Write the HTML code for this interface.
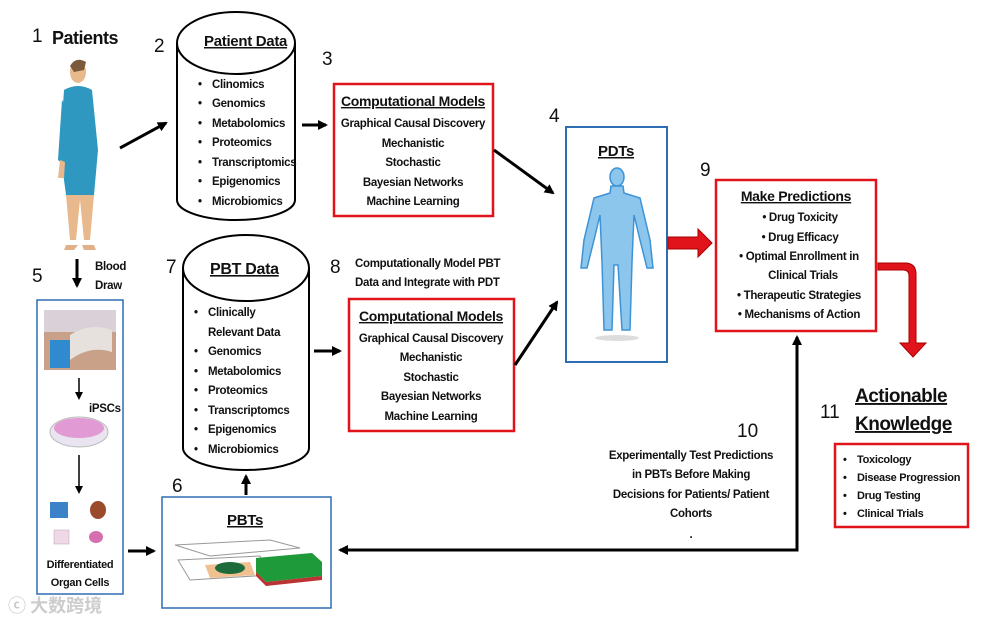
<!DOCTYPE html>
<html><head><meta charset="utf-8"><style>
body{margin:0;background:#fff}
svg{display:block}
text{font-family:"Liberation Sans",sans-serif;font-weight:bold;fill:#111}
.n{font-family:"Liberation Sans",sans-serif;font-weight:normal;font-size:19px}
.t{font-size:11.5px;letter-spacing:-0.3px}
.h{font-size:15px;text-decoration:underline;letter-spacing:-0.3px}
</style></head><body>
<svg width="981" height="625" viewBox="0 0 981 625" xmlns="http://www.w3.org/2000/svg">
<defs>
<marker id="a" markerWidth="8" markerHeight="8" refX="6" refY="4" orient="auto" markerUnits="userSpaceOnUse"><path d="M0,0 L8,4 L0,8 Z" fill="#000"/></marker>
<marker id="b" markerWidth="10" markerHeight="10" refX="8" refY="5" orient="auto" markerUnits="userSpaceOnUse"><path d="M0,0 L10,5 L0,10 Z" fill="#000"/></marker>
</defs>
<text class="n" x="32" y="42">1</text>
<text x="52" y="44" style="font-size:18px;letter-spacing:-0.5px">Patients</text>
<text class="n" x="154" y="52">2</text>
<text class="n" x="322" y="65">3</text>
<text class="n" x="549" y="122">4</text>
<text class="n" x="32" y="282">5</text>
<text class="n" x="172" y="492">6</text>
<text class="n" x="166" y="273">7</text>
<text class="n" x="330" y="273">8</text>
<text class="n" x="700" y="176">9</text>
<text class="n" x="737" y="437">10</text>
<text class="n" x="820" y="418">11</text>

<g>
<ellipse cx="78" cy="72" rx="8" ry="11" fill="#e8b98c"/>
<path d="M70,66 Q76,56 86,62 L84,70 L74,72 Z" fill="#7a5a3a"/>
<path d="M64,90 Q78,82 92,90 L98,150 L94,195 L66,195 L60,150 Z" fill="#2f98c0"/>
<path d="M66,195 L94,195 L90,240 L84,240 L80,200 L76,240 L70,240 Z" fill="#e8b98c"/>
<path d="M62,100 L58,160 L64,165 L68,110 Z" fill="#2f98c0"/>
<path d="M60,160 L58,178 L64,178 L65,162 Z" fill="#e8b98c"/>
<path d="M66,245 L78,245 L74,250 L64,250 Z M82,245 L94,245 L96,250 L84,250Z" fill="#e0b088"/>
</g>

<path d="M177,43 L177,200 A59,20 0 0 0 295,200 L295,43" fill="#fff" stroke="#000" stroke-width="2"/>
<ellipse cx="236" cy="43" rx="59" ry="31" fill="#fff" stroke="#000" stroke-width="2"/>
<text class="h" x="204" y="46">Patient Data</text>
<text class="t" x="198" y="88">•</text><text class="t" x="212" y="88">Clinomics</text>
<text class="t" x="198" y="107">•</text><text class="t" x="212" y="107">Genomics</text>
<text class="t" x="198" y="127">•</text><text class="t" x="212" y="127">Metabolomics</text>
<text class="t" x="198" y="146">•</text><text class="t" x="212" y="146">Proteomics</text>
<text class="t" x="198" y="166">•</text><text class="t" x="212" y="166">Transcriptomics</text>
<text class="t" x="198" y="185">•</text><text class="t" x="212" y="185">Epigenomics</text>
<text class="t" x="198" y="205">•</text><text class="t" x="212" y="205">Microbiomics</text>

<path d="M183,268 L183,448 A63,22 0 0 0 309,448 L309,268" fill="#fff" stroke="#000" stroke-width="2"/>
<ellipse cx="246" cy="268" rx="63" ry="33" fill="#fff" stroke="#000" stroke-width="2"/>
<text class="h" x="210" y="274" style="font-size:16px">PBT Data</text>
<text class="t" x="194" y="316">•</text><text class="t" x="208" y="316">Clinically</text>
<text class="t" x="208" y="336">Relevant Data</text>
<text class="t" x="194" y="355">•</text><text class="t" x="208" y="355">Genomics</text>
<text class="t" x="194" y="375">•</text><text class="t" x="208" y="375">Metabolomics</text>
<text class="t" x="194" y="394">•</text><text class="t" x="208" y="394">Proteomics</text>
<text class="t" x="194" y="414">•</text><text class="t" x="208" y="414">Transcriptomcs</text>
<text class="t" x="194" y="433">•</text><text class="t" x="208" y="433">Epigenomics</text>
<text class="t" x="194" y="453">•</text><text class="t" x="208" y="453">Microbiomics</text>

<rect x="334" y="84" width="159" height="132" fill="#fff" stroke="#e0141a" stroke-width="2.5"/>
<g text-anchor="middle">
<text class="h" x="413" y="106" style="font-size:14px">Computational Models</text>
<text class="t" x="413" y="127">Graphical Causal Discovery</text>
<text class="t" x="413" y="147">Mechanistic</text>
<text class="t" x="413" y="166">Stochastic</text>
<text class="t" x="413" y="186">Bayesian Networks</text>
<text class="t" x="413" y="205">Machine Learning</text>
</g>

<text class="t" x="355" y="267">Computationally Model PBT</text>
<text class="t" x="355" y="286">Data and Integrate with PDT</text>
<rect x="349" y="299" width="165" height="132" fill="#fff" stroke="#e0141a" stroke-width="2.5"/>
<g text-anchor="middle">
<text class="h" x="431" y="321" style="font-size:14px">Computational Models</text>
<text class="t" x="431" y="342">Graphical Causal Discovery</text>
<text class="t" x="431" y="361">Mechanistic</text>
<text class="t" x="431" y="381">Stochastic</text>
<text class="t" x="431" y="400">Bayesian Networks</text>
<text class="t" x="431" y="420">Machine Learning</text>
</g>

<rect x="566" y="127" width="101" height="235" fill="#fff" stroke="#2e6db4" stroke-width="2"/>
<text class="h" x="616" y="156" text-anchor="middle">PDTs</text>
<g fill="#8cc6ec" stroke="#3d93d6" stroke-width="1.5">
<ellipse cx="617" cy="177" rx="7" ry="9"/>
<path d="M611,186 L623,186 L624,193 L640,198 L650,240 L653,268 L647,268 L640,240 L634,215 L632,262 L630,330 L622,330 L618,265 L614,265 L612,330 L604,330 L602,262 L600,215 L594,240 L587,268 L581,268 L584,240 L594,198 L610,193 Z"/>
</g>
<ellipse cx="617" cy="338" rx="22" ry="3" fill="#ddd"/>

<rect x="716" y="180" width="160" height="151" fill="#fff" stroke="#e0141a" stroke-width="2.5"/>
<g text-anchor="middle">
<text class="h" x="796" y="201" style="font-size:14px">Make Predictions</text>
<text class="t" x="800" y="221">•  Drug Toxicity</text>
<text class="t" x="800" y="241">•  Drug Efficacy</text>
<text class="t" x="799" y="260">•  Optimal Enrollment in</text>
<text class="t" x="803" y="279">Clinical Trials</text>
<text class="t" x="799" y="299">•  Therapeutic  Strategies</text>
<text class="t" x="799" y="318">•  Mechanisms of Action</text>
</g>

<path d="M668,237 L698,237 L698,229 L712,243 L698,257 L698,249 L668,249 Z" fill="#e0141a" stroke="#a00" stroke-width="1"/>
<path d="M878,263 L905,263 Q916,263 916,274 L916,343 L926,343 L913,357 L900,343 L909,343 L909,276 Q909,270 903,270 L878,270 Z" fill="#e0141a" stroke="#a00" stroke-width="1"/>

<text x="855" y="402" style="font-size:19px;letter-spacing:-0.5px;text-decoration:underline">Actionable </text>
<text x="855" y="430" style="font-size:19px;letter-spacing:-0.5px;text-decoration:underline">Knowledge</text>
<rect x="835" y="444" width="133" height="83" fill="#fff" stroke="#e0141a" stroke-width="2.5"/>
<text class="t" x="843" y="463" style="font-size:11px">•</text><text class="t" x="857" y="463" style="font-size:11px">Toxicology</text>
<text class="t" x="843" y="481" style="font-size:11px">•</text><text class="t" x="857" y="481" style="font-size:11px">Disease Progression</text>
<text class="t" x="843" y="499" style="font-size:11px">•</text><text class="t" x="857" y="499" style="font-size:11px">Drug Testing</text>
<text class="t" x="843" y="517" style="font-size:11px">•</text><text class="t" x="857" y="517" style="font-size:11px">Clinical Trials</text>

<g text-anchor="middle">
<text class="t" x="691" y="459">Experimentally Test Predictions</text>
<text class="t" x="691" y="478">in PBTs Before Making</text>
<text class="t" x="691" y="498">Decisions for  Patients/ Patient</text>
<text class="t" x="691" y="517">Cohorts</text>
<text class="t" x="691" y="538">.</text>
</g>

<rect x="37" y="300" width="86" height="294" fill="#fff" stroke="#2e6db4" stroke-width="1.5"/>
<text class="t" x="95" y="270">Blood</text>
<text class="t" x="95" y="289">Draw</text>
<rect x="44" y="310" width="72" height="60" fill="#c9a088"/>
<rect x="44" y="310" width="72" height="22" fill="#d9d0d8"/>
<rect x="50" y="340" width="20" height="28" fill="#2f8ad0"/>
<path d="M70,335 Q90,322 112,330 L112,352 Q90,345 70,360Z" fill="#e6e1dc"/>
<text class="t" x="89" y="412">iPSCs</text>
<ellipse cx="79" cy="432" rx="29" ry="15" fill="#e9e4ef" stroke="#bbb"/>
<ellipse cx="79" cy="428" rx="25" ry="10" fill="#e29ad4"/>
<rect x="50" y="502" width="18" height="16" fill="#3b82c8"/>
<ellipse cx="98" cy="510" rx="8" ry="9" fill="#9b4a2b"/>
<rect x="54" y="530" width="15" height="14" fill="#f1d8e8" stroke="#aaa" stroke-width=".5"/>
<ellipse cx="96" cy="537" rx="7" ry="6" fill="#d66fb0"/>
<g text-anchor="middle"><text class="t" x="80" y="568" style="font-size:11px">Differentiated</text><text class="t" x="80" y="586" style="font-size:11px">Organ  Cells</text></g>

<rect x="162" y="497" width="169" height="111" fill="#fff" stroke="#2e6db4" stroke-width="1.5"/>
<text class="h" x="245" y="525" text-anchor="middle">PBTs</text>
<path d="M175,545 L270,540 L300,548 L210,556 Z M178,560 L260,556 L270,575 L190,580 Z" fill="none" stroke="#999" stroke-width="1"/>
<path d="M205,565 L250,562 L255,575 L210,578 Z" fill="#f0c090"/>
<ellipse cx="230" cy="568" rx="15" ry="6" fill="#1d6a3a"/>
<path d="M256,558 L312,553 L322,562 L322,576 L266,582 L256,572 Z" fill="#1f9a3a"/>
<path d="M256,572 L266,582 L322,576 L322,580 L266,586 L256,576Z" fill="#b33"/>

<g stroke="#000" stroke-width="3" fill="none">
<line x1="120" y1="148" x2="166" y2="123" marker-end="url(#b)"/>
<line x1="302" y1="125" x2="326" y2="125" marker-end="url(#b)"/>
<line x1="494" y1="150" x2="553" y2="193" marker-end="url(#b)"/>
<line x1="314" y1="351" x2="340" y2="351" marker-end="url(#b)"/>
<line x1="515" y1="365" x2="557" y2="302" marker-end="url(#b)"/>
<line x1="77" y1="259" x2="77" y2="286" marker-end="url(#b)"/>
<line x1="128" y1="551" x2="154" y2="551" marker-end="url(#b)"/>
<line x1="246" y1="495" x2="246" y2="476" marker-end="url(#b)"/>
<polyline points="797,338 797,550 340,550" marker-end="url(#b)"/>
<line x1="797" y1="345" x2="797" y2="337" marker-end="url(#b)"/>
</g>
<g stroke="#000" stroke-width="1.5">
<line x1="79" y1="378" x2="79" y2="398" marker-end="url(#a)"/>
<line x1="79" y1="455" x2="79" y2="492" marker-end="url(#a)"/>
</g>
<text x="8" y="612" style="font-size:18px;fill:#ccc;font-family:'Noto Sans CJK SC',sans-serif">ⓒ 大数跨境</text>
</svg>
</body></html>
